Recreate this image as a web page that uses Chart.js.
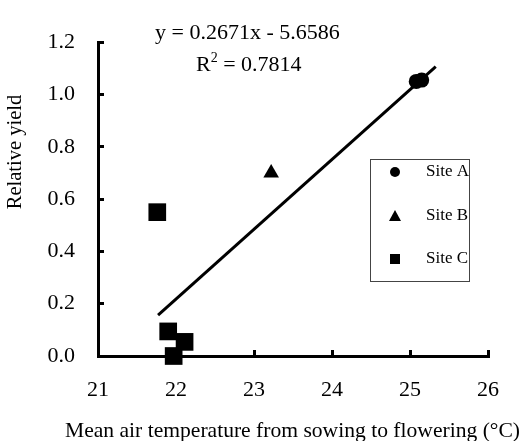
<!DOCTYPE html>
<html>
<head>
<meta charset="utf-8">
<script src="https://cdn.jsdelivr.net/npm/chart.js@4/dist/chart.umd.min.js"></script>
<style>
  html, body { margin: 0; padding: 0; background: #fff; }
  canvas { display: block; }
</style>
</head>
<body>
<canvas id="c" width="526" height="441"></canvas>
<script>
// ---- data ----
const siteAX = [25.08, 25.15];
const siteAY = [1.05, 1.055];
const siteBX = [23.22];
const siteBY = [0.70];
const siteCX = [21.76, 21.90, 22.11, 21.97];
const siteCY = [0.55, 0.094, 0.054, 0.0];
const trendX = [21.77, 25.33];
const trendY = [0.156, 1.107];
const seriesNames = ['Site A', 'Site B', 'Site C'];
const equationText = 'y = 0.2671x - 5.6586';
const r2Value = '0.7814';
const xTitle = 'Mean air temperature from sowing to flowering (\u00B0C)';
const yTitle = 'Relative yield';
const xTicks = [21, 22, 23, 24, 25, 26];
const yTicks = [0.0, 0.2, 0.4, 0.6, 0.8, 1.0, 1.2];

const FONT = "'Liberation Serif', 'Times New Roman', serif";
const pts = (xs, ys) => xs.map((x, i) => ({x: x, y: ys[i]}));

const annotations = {
  id: 'annotations',
  afterDraw(chart) {
    const ctx = chart.ctx;
    ctx.save();
    ctx.fillStyle = '#000';
    // y title
    ctx.save();
    ctx.translate(16, 152);
    ctx.rotate(-Math.PI / 2);
    ctx.font = '20.5px ' + FONT;
    ctx.textAlign = 'center';
    ctx.textBaseline = 'middle';
    ctx.fillText(yTitle, 0, 0);
    ctx.restore();
    // x title, sized to span the same width as in the reference
    ctx.font = '20px ' + FONT;
    const xs = Math.min(24, 20 * 455 / ctx.measureText(xTitle).width);
    ctx.font = xs.toFixed(2) + 'px ' + FONT;
    ctx.textAlign = 'center';
    ctx.textBaseline = 'middle';
    ctx.fillText(xTitle, 292.5, 431);
    // equation
    ctx.font = '22px ' + FONT;
    ctx.textAlign = 'left';
    ctx.textBaseline = 'alphabetic';
    ctx.fillText(equationText, 155, 39);
    // R^2
    let x = 196;
    ctx.fillText('R', x, 71);
    x += ctx.measureText('R').width;
    ctx.font = '14px ' + FONT;
    ctx.fillText('2', x, 62);
    x += ctx.measureText('2').width;
    ctx.font = '22px ' + FONT;
    ctx.fillText(' = ' + r2Value, x, 71);
    // legend box
    ctx.strokeStyle = '#444';
    ctx.lineWidth = 1;
    ctx.strokeRect(370.5, 159.5, 99, 122);
    const ly = [172, 216, 259];
    const mx = 395;
    ctx.beginPath();
    ctx.arc(mx, ly[0], 5, 0, Math.PI * 2);
    ctx.fill();
    ctx.beginPath();
    ctx.moveTo(mx, ly[1] - 6);
    ctx.lineTo(mx + 6, ly[1] + 5);
    ctx.lineTo(mx - 6, ly[1] + 5);
    ctx.closePath();
    ctx.fill();
    ctx.fillRect(mx - 5, ly[2] - 5, 10, 10);
    ctx.font = '17px ' + FONT;
    ctx.textBaseline = 'middle';
    seriesNames.forEach((n, i) => ctx.fillText(n, 426, ly[i]));
    ctx.restore();
  }
};

new Chart(document.getElementById('c'), {
  type: 'scatter',
  data: {
    datasets: [
      { label: 'Trend', type: 'line', data: pts(trendX, trendY), borderColor: '#000', borderWidth: 3,
        pointRadius: 0, fill: false, showLine: true, clip: false },
      { label: seriesNames[0], data: pts(siteAX, siteAY), pointStyle: 'circle', pointRadius: 7.5,
        backgroundColor: '#000', borderColor: '#000', borderWidth: 0, clip: false },
      { label: seriesNames[1], data: pts(siteBX, siteBY), pointStyle: 'triangle', pointRadius: 9,
        backgroundColor: '#000', borderColor: '#000', borderWidth: 0, clip: false },
      { label: seriesNames[2], data: pts(siteCX, siteCY), pointStyle: 'rect', pointRadius: 12.5,
        backgroundColor: '#000', borderColor: '#000', borderWidth: 0, clip: false }
    ]
  },
  options: {
    responsive: false,
    animation: false,
    devicePixelRatio: 1,
    events: [],
    layout: { padding: { left: 0, top: 16, right: 37, bottom: 0 } },
    plugins: { legend: { display: false }, tooltip: { enabled: false } },
    scales: {
      x: {
        type: 'linear', min: 21, max: 26,
        afterFit(s) { s.height = 85; },
        afterBuildTicks(s) { s.ticks = xTicks.map(v => ({value: v})); },
        ticks: { color: '#000', font: { family: FONT, size: 22 }, padding: 27, maxRotation: 0 },
        grid: { display: true, drawOnChartArea: false, drawTicks: true, tickLength: -6,
                tickWidth: 3, tickColor: '#000' },
        border: { display: true, color: '#000', width: 3 },
        title: { display: false }
      },
      y: {
        type: 'linear', min: 0, max: 1.2,
        afterFit(s) { s.width = 98; },
        afterBuildTicks(s) { s.ticks = yTicks.map(v => ({value: v})); },
        ticks: { color: '#000', font: { family: FONT, size: 22 }, padding: 29,
                 callback: v => Number(v).toFixed(1) },
        grid: { display: true, drawOnChartArea: false, drawTicks: true, tickLength: -6,
                tickWidth: 3, tickColor: '#000' },
        border: { display: true, color: '#000', width: 3 }
      }
    }
  },
  plugins: [annotations]
});
</script>
</body>
</html>
